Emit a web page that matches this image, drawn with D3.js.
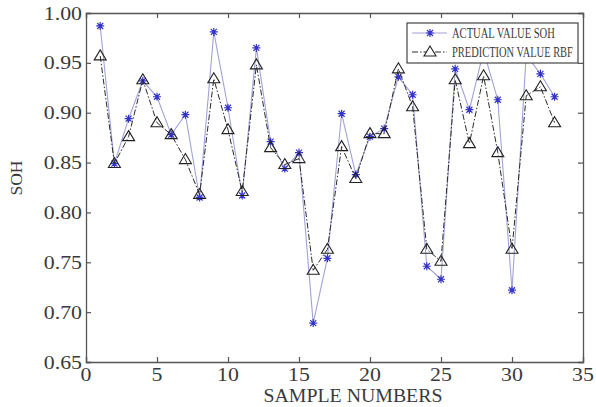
<!DOCTYPE html>
<html>
<head>
<meta charset="utf-8">
<script src="https://cdn.jsdelivr.net/npm/d3@7"></script>
<style>
  body { margin: 0; background: #fff; }
  svg text { font-family: "Liberation Serif", "DejaVu Serif", serif; fill: #3a3a3a; }
</style>
</head>
<body>
<div id="chart"></div>
<script>
// sample numbers 1..33
var samples = [1,2,3,4,5,6,7,8,9,10,11,12,13,14,15,16,17,18,19,20,21,22,23,24,25,26,27,28,29,30,31,32,33];
// actual SOH values
var actualSOH = [0.987,0.849,0.894,0.932,0.916,0.878,0.898,0.815,0.981,0.905,0.817,0.965,0.871,0.844,0.860,0.689,
                 0.754,0.899,0.838,0.876,0.884,0.936,0.918,0.746,0.733,0.944,0.903,0.962,0.913,0.722,0.958,0.939,0.916];
// RBF prediction values
var predRBF = [0.957,0.849,0.876,0.933,0.890,0.878,0.853,0.818,0.934,0.883,0.821,0.948,0.865,0.848,0.854,0.742,
               0.763,0.866,0.834,0.879,0.879,0.944,0.906,0.763,0.751,0.933,0.869,0.937,0.860,0.763,0.917,0.926,0.890];
var xTicks = [0,5,10,15,20,25,30,35];
var yTicks = [0.65,0.70,0.75,0.80,0.85,0.90,0.95,1.00];
var legendLabels = ["ACTUAL VALUE SOH", "PREDICTION VALUE RBF"];

var width = 596, height = 407;
var margin = {left: 86, right: 13, top: 13, bottom: 45};

var svg = d3.select("#chart").append("svg")
    .attr("width", width)
    .attr("height", height);

var x = d3.scaleLinear().domain([0, 35]).range([margin.left, width - margin.right]);
var y = d3.scaleLinear().domain([0.65, 1.0]).range([height - margin.bottom, margin.top]);

var axisColor = "#555";

// stretched text helper (the reference font is wider than Times)
function stretchText(g, tx, ty, str, size, sx, anchor) {
    return g.append("text")
        .attr("transform", "translate(" + tx + "," + ty + ") scale(" + sx + ",1)")
        .attr("text-anchor", anchor)
        .style("font-size", size + "px")
        .text(str);
}

// text squeezed/stretched to a given width, by measuring it first
function fitText(g, tx, ty, str, size, targetW, anchor, rot) {
    var t = g.append("text")
        .attr("text-anchor", anchor)
        .style("font-size", size + "px")
        .text(str);
    var w = t.node().getComputedTextLength();
    var sx = targetW / w;
    t.attr("transform", "translate(" + tx + "," + ty + ")" + (rot ? " rotate(" + rot + ")" : "") + " scale(" + sx + ",1)");
    return t;
}

// axes, with ticks pointing inward
var xAxis = svg.append("g")
    .attr("transform", "translate(0," + y(0.65) + ")")
    .call(d3.axisTop(x).tickValues(xTicks).tickSize(5).tickFormat(""));
var xAxisTop = svg.append("g")
    .attr("transform", "translate(0," + y(1.0) + ")")
    .call(d3.axisBottom(x).tickValues(xTicks).tickSize(5).tickFormat(""));
var yAxis = svg.append("g")
    .attr("transform", "translate(" + x(0) + ",0)")
    .call(d3.axisRight(y).tickValues(yTicks).tickSize(5).tickFormat(""));
var yAxisRight = svg.append("g")
    .attr("transform", "translate(" + x(35) + ",0)")
    .call(d3.axisLeft(y).tickValues(yTicks).tickSize(5).tickFormat(""));

[xAxis, xAxisTop, yAxis, yAxisRight].forEach(function (a) {
    a.selectAll("path").attr("stroke", axisColor).attr("stroke-width", 1.3);
    a.selectAll("line").attr("stroke", axisColor).attr("stroke-width", 1.2);
});

// tick labels
var labels = svg.append("g");
xTicks.forEach(function (t) {
    stretchText(labels, x(t), y(0.65) + 18.5, String(t), 19, 1.15, "middle");
});
yTicks.forEach(function (t) {
    stretchText(labels, x(0) - 4, y(t) + 6.5, t.toFixed(2), 19, 1.15, "end");
});

// axis titles
fitText(svg, 353, 402, "SAMPLE NUMBERS", 18, 179, "middle");
fitText(svg, 22, 178, "SOH", 16, 35, "middle", -90);

var line = d3.line()
    .x(function (d, i) { return x(samples[i]); })
    .y(function (d) { return y(d); });

// actual series
svg.append("path")
    .datum(actualSOH)
    .attr("d", line)
    .attr("fill", "none")
    .attr("stroke", "#a2a2d8")
    .attr("stroke-width", 1.1);

var starPath = "M-4,0L4,0M0,-4L0,4M-3,-3L3,3M-3,3L3,-3";
svg.append("g").selectAll("path")
    .data(actualSOH)
    .enter()
    .append("path")
    .attr("transform", function (d, i) { return "translate(" + x(samples[i]) + "," + y(d) + ")"; })
    .attr("d", starPath)
    .attr("stroke", "#3434c8")
    .attr("stroke-width", 1.2)
    .attr("fill", "none");

// prediction series
svg.append("path")
    .datum(predRBF)
    .attr("d", line)
    .attr("fill", "none")
    .attr("stroke", "#2a2a2a")
    .attr("stroke-width", 1)
    .attr("stroke-dasharray", "6,2,1.5,2");

var triPath = "M0,-6L6,4L-6,4Z";
svg.append("g").selectAll("path")
    .data(predRBF)
    .enter()
    .append("path")
    .attr("transform", function (d, i) { return "translate(" + x(samples[i]) + "," + y(d) + ")"; })
    .attr("d", triPath)
    .attr("stroke", "#222")
    .attr("stroke-width", 1.1)
    .attr("fill", "none");

// legend
var legend = svg.append("g");
legend.append("rect")
    .attr("x", 407).attr("y", 23)
    .attr("width", 171).attr("height", 40)
    .attr("fill", "#fff")
    .attr("stroke", "#333")
    .attr("stroke-width", 1.1);

legend.append("line")
    .attr("x1", 412).attr("x2", 447).attr("y1", 33).attr("y2", 33)
    .attr("stroke", "#a2a2d8").attr("stroke-width", 1.1);
legend.append("path")
    .attr("transform", "translate(430,33)")
    .attr("d", starPath)
    .attr("stroke", "#3434c8").attr("stroke-width", 1.2);
legend.append("line")
    .attr("x1", 412).attr("x2", 447).attr("y1", 52).attr("y2", 52)
    .attr("stroke", "#2a2a2a").attr("stroke-width", 1)
    .attr("stroke-dasharray", "6,2,1.5,2");
legend.append("path")
    .attr("transform", "translate(430,52)")
    .attr("d", triPath)
    .attr("stroke", "#222").attr("stroke-width", 1.1).attr("fill", "#fff");

var legendWidths = [103, 121];
legendLabels.forEach(function (s, i) {
    fitText(legend, 452, 38 + i * 18.5, s, 14, legendWidths[i], "start");
});
</script>
</body>
</html>
